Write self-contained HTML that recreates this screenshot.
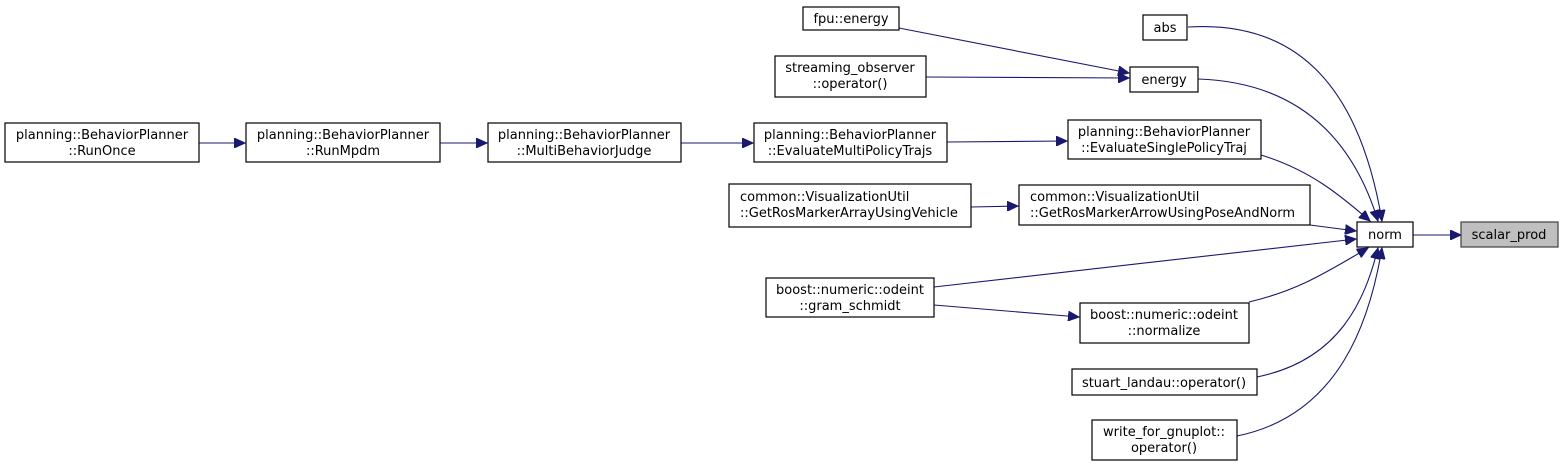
<!DOCTYPE html>
<html><head><meta charset="utf-8"><style>
html,body{margin:0;padding:0;background:#fff;}
svg{display:block;}
text{font-family:"DejaVu Sans","Liberation Sans",sans-serif;font-size:13px;fill:#000;}
.b{fill:#fff;stroke:#000;stroke-width:1.2;}
.g{fill:#bfbfbf;stroke:#404040;stroke-width:1.2;}
.e{fill:none;stroke:#191970;stroke-width:1.1;}
.a{fill:#191970;stroke:#191970;}
</style></head><body>
<svg width="1564" height="466" viewBox="0 0 1564 466" xmlns="http://www.w3.org/2000/svg">
<defs><marker id="m" markerWidth="12" markerHeight="10" refX="11" refY="5" orient="auto" markerUnits="userSpaceOnUse"><path d="M0,0 L11,5 L0,10 z" class="a"/></marker></defs>
<g class="e" marker-end="url(#m)">
<path d="M1413,235 L1461,235"/>
<path d="M1188,27 C1300,20 1360,90 1382,221"/>
<path d="M1198,79 C1290,82 1350,130 1378,221"/>
<path d="M1261,155 C1310,170 1340,195 1370,221"/>
<path d="M1310,225 L1356,231"/>
<path d="M934,287 L1356,239"/>
<path d="M1249,302 C1300,290 1330,270 1368,248"/>
<path d="M1257,377 C1340,360 1365,300 1378,248"/>
<path d="M1237,436 C1340,415 1370,320 1382,248"/>
<path d="M899,28 L1129,73"/>
<path d="M926,77 L1129,78"/>
<path d="M947,142 L1067,141"/>
<path d="M971,207 L1018,206"/>
<path d="M934,305 L1079,317"/>
<path d="M199,143 L245,143"/>
<path d="M440,143 L487,143"/>
<path d="M681,143 L753,143"/>
</g>
<rect class="b" x="803" y="7" width="96" height="23"/><text x="851" y="23" text-anchor="middle">fpu::energy</text>
<rect class="b" x="775" y="56" width="151" height="41"/><text x="850" y="72" text-anchor="middle">streaming_observer</text><text x="850" y="88" text-anchor="middle">::operator()</text>
<rect class="b" x="1143" y="15" width="44" height="25"/><text x="1165" y="32" text-anchor="middle">abs</text>
<rect class="b" x="1130" y="67" width="68" height="25"/><text x="1164" y="84" text-anchor="middle">energy</text>
<rect class="b" x="1068" y="120" width="193" height="39"/><text x="1164" y="136" text-anchor="middle">planning::BehaviorPlanner</text><text x="1164" y="152" text-anchor="middle">::EvaluateSinglePolicyTraj</text>
<rect class="b" x="1019" y="185" width="291" height="40"/><text x="1030" y="201">common::VisualizationUtil</text><text x="1030" y="217">::GetRosMarkerArrowUsingPoseAndNorm</text>
<rect class="b" x="1357" y="222" width="56" height="25"/><text x="1385" y="239" text-anchor="middle">norm</text>
<rect class="g" x="1461" y="222" width="97" height="25"/><text x="1509" y="239" text-anchor="middle">scalar_prod</text>
<rect class="b" x="5" y="123" width="194" height="39"/><text x="102" y="139" text-anchor="middle">planning::BehaviorPlanner</text><text x="102" y="155" text-anchor="middle">::RunOnce</text>
<rect class="b" x="246" y="123" width="194" height="39"/><text x="343" y="139" text-anchor="middle">planning::BehaviorPlanner</text><text x="343" y="155" text-anchor="middle">::RunMpdm</text>
<rect class="b" x="488" y="123" width="193" height="39"/><text x="584" y="139" text-anchor="middle">planning::BehaviorPlanner</text><text x="584" y="155" text-anchor="middle">::MultiBehaviorJudge</text>
<rect class="b" x="754" y="123" width="193" height="39"/><text x="850" y="139" text-anchor="middle">planning::BehaviorPlanner</text><text x="850" y="155" text-anchor="middle">::EvaluateMultiPolicyTrajs</text>
<rect class="b" x="729" y="184" width="242" height="43"/><text x="740" y="201">common::VisualizationUtil</text><text x="740" y="217">::GetRosMarkerArrayUsingVehicle</text>
<rect class="b" x="766" y="278" width="168" height="39"/><text x="850" y="294" text-anchor="middle">boost::numeric::odeint</text><text x="850" y="310" text-anchor="middle">::gram_schmidt</text>
<rect class="b" x="1080" y="303" width="169" height="40"/><text x="1164" y="319" text-anchor="middle">boost::numeric::odeint</text><text x="1164" y="335" text-anchor="middle">::normalize</text>
<rect class="b" x="1072" y="369" width="185" height="26"/><text x="1164" y="387" text-anchor="middle">stuart_landau::operator()</text>
<rect class="b" x="1092" y="420" width="145" height="40"/><text x="1164" y="436" text-anchor="middle">write_for_gnuplot::</text><text x="1164" y="452" text-anchor="middle">operator()</text>
</svg>
</body></html>
